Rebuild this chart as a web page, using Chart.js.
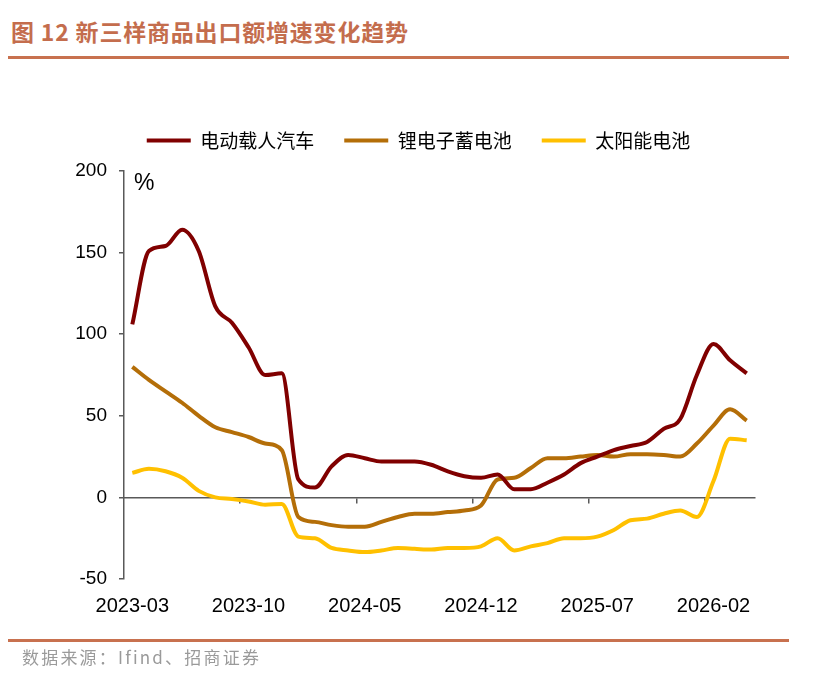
<!DOCTYPE html>
<html>
<head>
<meta charset="utf-8">
<script src="https://cdn.jsdelivr.net/npm/chart.js@4/dist/chart.umd.min.js"></script>
<style>
  html, body { margin: 0; padding: 0; background: #fff; }
  body { width: 819px; height: 676px; position: relative; overflow: hidden; }
  #title { position: absolute; left: 11px; top: 14px; font: bold 23px "Noto Sans CJK SC", sans-serif; color: #c46d4d; letter-spacing: 0.8px; }
  .rule { position: absolute; left: 8px; width: 781px; height: 3px; background: #c8714f; }
  #source { position: absolute; left: 22px; top: 644px; font: 17px "Noto Sans CJK SC", sans-serif; color: #9a9a9a; letter-spacing: 2.2px; }
  #wrap { position: absolute; left: 0; top: 0; width: 819px; height: 676px; }
</style>
</head>
<body>
<div id="title">图 12 新三样商品出口额增速变化趋势</div>
<div class="rule" style="top:56px"></div>
<div id="wrap"><canvas id="chart"></canvas></div>
<div class="rule" style="top:639px"></div>
<div id="source">数据来源：Ifind、招商证券</div>
<script>
// 月份 2023-03 ... 2026-04
const months = [
  '2023-03','2023-04','2023-05','2023-06','2023-07','2023-08','2023-09',
  '2023-10','2023-11','2023-12','2024-01','2024-02','2024-03','2024-04',
  '2024-05','2024-06','2024-07','2024-08','2024-09','2024-10','2024-11',
  '2024-12','2025-01','2025-02','2025-03','2025-04','2025-05','2025-06',
  '2025-07','2025-08','2025-09','2025-10','2025-11','2025-12','2026-01',
  '2026-02','2026-03','2026-04'
];
const seriesNames = ['电动载人汽车', '锂电子蓄电池', '太阳能电池'];
const evCars = [106, 151, 154, 164, 151, 117, 107, 92, 75, 76, 11, 6, 19, 26, 24, 22, 22, 22, 20, 16, 13, 12, 14, 5, 5, 9, 14, 21, 25, 29, 31.5, 34, 42, 48, 75, 94, 84, 76];
const liBattery = [80, 72, 65, 58, 50, 43, 40, 37, 33, 29, -12, -15, -17, -18, -18, -15, -12, -10, -10, -9, -8, -5, 11, 12, 18, 24, 24, 25, 26, 25, 26.5, 26.5, 26, 25, 33, 44, 54, 47];
const solarCells = [15, 17.5, 16, 12, 4, 0, -1, -2.5, -4.5, -4, -24, -25, -31, -32.5, -33.5, -32.5, -31, -31.5, -32, -31, -31, -30, -25, -32.5, -30, -28, -25, -25, -24, -20, -14, -13, -10, -8, -12, 10, 36, 35];
const yTicks = [-50, 0, 50, 100, 150, 200];
const colors = ['#800000', '#b46e08', '#ffc000'];

const axisColor = '#595959';
const labelEvery = 7;

// "%" над осью Y
const percentLabel = {
  id: 'percentLabel',
  afterDraw(chart) {
    const ctx = chart.ctx;
    const area = chart.chartArea;
    ctx.save();
    ctx.font = '23px "Liberation Sans", Arial, sans-serif';
    ctx.fillStyle = '#000';
    ctx.textBaseline = 'top';
    ctx.fillText('%', area.left + 10, area.top + 1);
    ctx.restore();
  }
};

const datasets = [evCars, liBattery, solarCells].map((values, i) => ({
  label: seriesNames[i],
  data: values,
  borderColor: colors[i],
  backgroundColor: colors[i],
  borderWidth: 4,
  pointRadius: 0,
  fill: false,
  cubicInterpolationMode: 'monotone'
}));

new Chart(document.getElementById('chart'), {
  type: 'line',
  data: { labels: months, datasets },
  plugins: [percentLabel],
  options: {
    responsive: true,
    maintainAspectRatio: false,
    animation: false,
    layout: { padding: { left: 60, right: 42, top: 101, bottom: 43 } },
    plugins: {
      tooltip: { enabled: false },
      legend: {
        position: 'top',
        align: 'center',
        labels: {
          color: '#000',
          font: { family: '"Noto Sans CJK SC", sans-serif', size: 19 },
          boxWidth: 44,
          boxHeight: 4,
          padding: 30,
          generateLabels(chart) {
            const items = Chart.defaults.plugins.legend.labels.generateLabels(chart);
            items.forEach(it => { it.lineWidth = 0; });
            return items;
          }
        }
      }
    },
    scales: {
      x: {
        type: 'category',
        position: 'bottom',
        offset: true,
        border: { display: false },
        grid: { display: false, drawTicks: false },
        ticks: {
          autoSkip: false,
          maxRotation: 0,
          padding: 15,
          color: '#000',
          font: { family: '"Liberation Sans", Arial, sans-serif', size: 20 },
          callback: (v, i) => (i % labelEvery === 0 ? months[i] : '')
        }
      },
      // ось на уровне 0 с рисками
      xZero: {
        type: 'category',
        position: { y: 0 },
        offset: true,
        border: { display: true, color: axisColor, width: 1.5 },
        grid: {
          offset: true,
          drawOnChartArea: false,
          drawTicks: true,
          tickLength: 5,
          lineWidth: 1.5,
          color: ctx => (ctx.index > 0 && ctx.index % labelEvery === 0 ? axisColor : 'rgba(0,0,0,0)')
        },
        ticks: { display: false }
      },
      // отступ между легендой и графиком
      xTop: {
        type: 'category',
        position: 'top',
        display: true,
        border: { display: false },
        grid: { display: false },
        ticks: { display: false },
        afterFit(scale) { scale.height = 11; }
      },
      y: {
        min: -50,
        max: 200,
        afterFit(scale) { scale.width = 64; },
        afterBuildTicks(scale) { scale.ticks = yTicks.map(v => ({ value: v })); },
        border: { display: true, color: axisColor, width: 1.5 },
        grid: { drawOnChartArea: false, drawTicks: true, tickLength: 5, color: axisColor, lineWidth: 1.5 },
        ticks: {
          padding: 12,
          color: '#000',
          font: { family: '"Liberation Sans", Arial, sans-serif', size: 19 }
        }
      },
      // пустое место справа, чтобы легенда встала по центру как в оригинале
      yRight: {
        type: 'linear',
        position: 'right',
        display: true,
        border: { display: false },
        grid: { display: false },
        ticks: { display: false },
        afterFit(scale) { scale.width = 22; }
      }
    }
  }
});
</script>
</body>
</html>
